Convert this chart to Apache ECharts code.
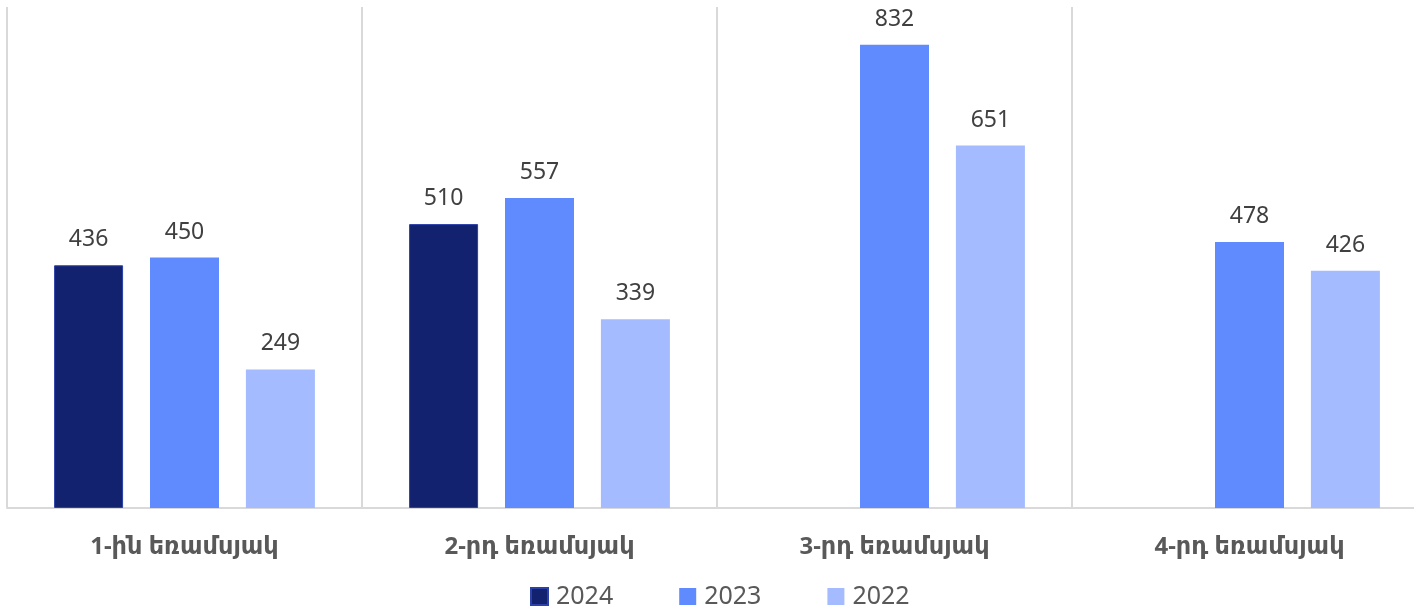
<!DOCTYPE html>
<html>
<head>
<meta charset="utf-8">
<script src="https://cdn.jsdelivr.net/npm/echarts@6/dist/echarts.min.js"></script>
<style>html,body{margin:0;padding:0;background:#fff;}#c{width:1414px;height:609px;}</style>
</head>
<body>
<div id="c"></div>
<script>
const categories = ['1-ին եռամսյակ', '2-րդ եռամսյակ', '3-րդ եռամսյակ', '4-րդ եռամսյակ'];
const seriesNames = ['2024', '2023', '2022'];
const values2024 = [436, 510, null, null];
const values2023 = [450, 557, 832, 478];
const values2022 = [249, 339, 651, 426];

const font = '"Noto Sans", "DejaVu Sans", sans-serif';
const chart = echarts.init(document.getElementById('c'));
const label = {show: true, position: 'top', distance: 14, color: '#404040', fontSize: 23, fontFamily: font};
chart.setOption({
  animation: false,
  grid: {left: 7, width: 1420, top: 7, height: 501, outerBoundsMode: 'none', containLabel: false},
  legend: {
    data: seriesNames, top: 579, left: 525, itemWidth: 17, itemHeight: 17, itemGap: 66,
    icon: 'rect',
    textStyle: {color: '#595959', fontSize: 25, fontFamily: font, padding: [0, 0, 0, 3]}
  },
  xAxis: {
    type: 'category', data: categories,
    axisLine: {lineStyle: {color: '#d9d9d9', width: 2}},
    axisTick: {show: false},
    splitLine: {show: true, lineStyle: {color: '#d9d9d9', width: 2}},
    axisLabel: {color: '#595959', fontSize: 24, fontWeight: 'bold', fontFamily: font, margin: 27}
  },
  yAxis: {type: 'value', min: 0, max: 900, show: false, splitLine: {show: false}},
  series: [
    {name: '2024', type: 'bar', data: values2024, barWidth: 69, barGap: '39%',
     itemStyle: {color: '#13226F', borderColor: '#2B40A8', borderWidth: 1}, label: label},
    {name: '2023', type: 'bar', data: values2023, barWidth: 69, barGap: '39%',
     itemStyle: {color: '#5F8BFF'}, label: label},
    {name: '2022', type: 'bar', data: values2022, barWidth: 69, barGap: '39%',
     itemStyle: {color: '#A4BCFF'}, label: label}
  ]
});
</script>
</body>
</html>
